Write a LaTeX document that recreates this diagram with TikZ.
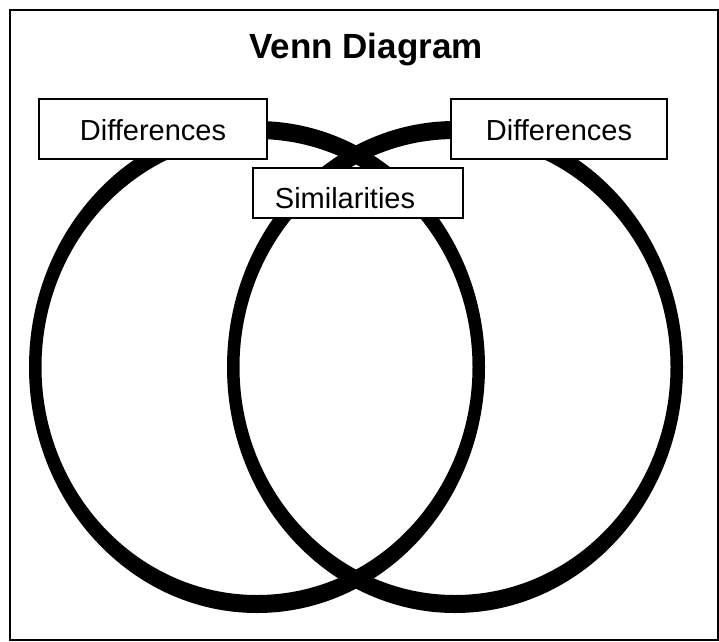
\documentclass[tikz,border=0pt]{standalone}
\usepackage{fontspec}
\setmainfont{Liberation Sans}
\begin{document}
\begin{tikzpicture}[x=1pt,y=-1pt,
  ring/.style={fill=black,even odd rule},
  labelbox/.style={draw=black,line width=1.6pt,fill=white,inner sep=0pt},
  boxtext/.style={anchor=base,inner sep=0pt,font=\fontsize{29}{32}\selectfont},
  frame/.style={draw=black,line width=2pt}]
\useasboundingbox (0,0) rectangle (719,641);
\path[frame] (10,10) rectangle (718,640);
\node[anchor=base,inner sep=0pt,font=\bfseries\fontsize{35}{40}\selectfont] (title) at (366,58) {Venn Diagram};
% circles
\path[ring] (257,367) ellipse [x radius=228, y radius=246]
            (257,367) ellipse [x radius=215.5, y radius=228];
\path[ring] (455,367) ellipse [x radius=228, y radius=246]
            (455,367) ellipse [x radius=215.5, y radius=228];
% boxes
\node[labelbox,minimum width=228pt,minimum height=60pt] (leftbox) at (153,129) {};
\node[labelbox,minimum width=216pt,minimum height=60pt] (rightbox) at (559,129) {};
\node[labelbox,minimum width=210pt,minimum height=50pt] (simbox) at (358,193) {};
\node[boxtext] (lefttext) at (153,140) {Differences};
\node[boxtext] (righttext) at (559,140) {Differences};
\node[boxtext] (simtext) at (345,208) {Similarities};
\end{tikzpicture}
\end{document}
